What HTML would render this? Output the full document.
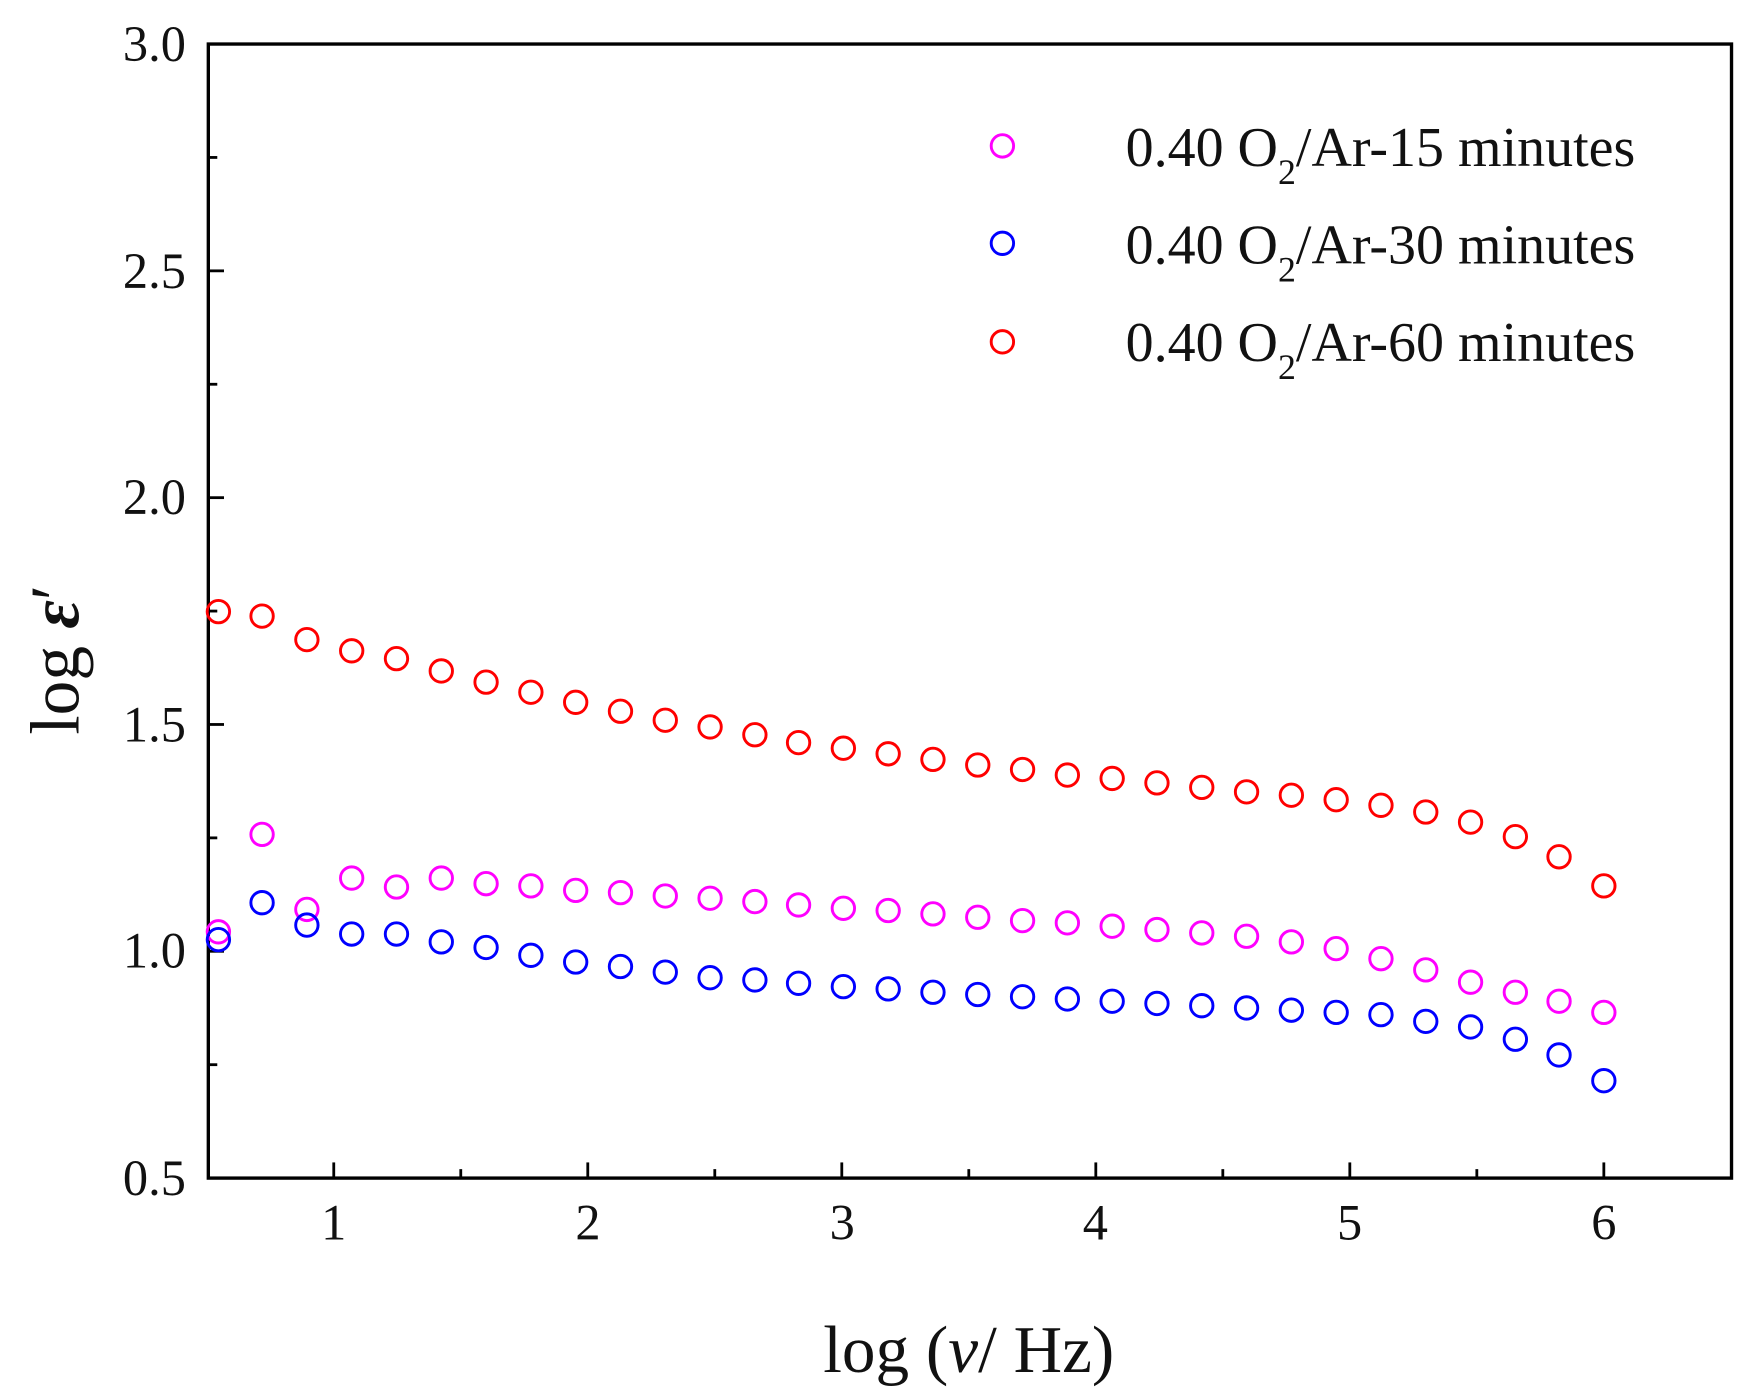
<!DOCTYPE html>
<html><head><style>html,body{margin:0;padding:0;background:#fff;}svg{display:block;}</style></head>
<body>
<svg width="1757" height="1400" viewBox="0 0 1757 1400" xmlns="http://www.w3.org/2000/svg">
<g transform="matrix(1.12 0 0 1.1195 0 1.5)" font-family="Liberation Serif, serif" fill="#111">
<rect x="186" y="38" width="1360" height="1013" fill="none" stroke="#000" stroke-width="3"/>
<g stroke="#000" stroke-width="2.5">
<line x1="298" y1="1051" x2="298" y2="1037"/><line x1="411.4" y1="1051" x2="411.4" y2="1043"/>
<line x1="524.8" y1="1051" x2="524.8" y2="1037"/><line x1="638.2" y1="1051" x2="638.2" y2="1043"/>
<line x1="751.6" y1="1051" x2="751.6" y2="1037"/><line x1="865" y1="1051" x2="865" y2="1043"/>
<line x1="978.4" y1="1051" x2="978.4" y2="1037"/><line x1="1091.8" y1="1051" x2="1091.8" y2="1043"/>
<line x1="1205.2" y1="1051" x2="1205.2" y2="1037"/><line x1="1318.6" y1="1051" x2="1318.6" y2="1043"/>
<line x1="1432" y1="1051" x2="1432" y2="1037"/>
<line x1="186" y1="949.7" x2="194" y2="949.7"/><line x1="186" y1="848.4" x2="200" y2="848.4"/>
<line x1="186" y1="747.1" x2="194" y2="747.1"/><line x1="186" y1="645.8" x2="200" y2="645.8"/>
<line x1="186" y1="544.5" x2="194" y2="544.5"/><line x1="186" y1="443.2" x2="200" y2="443.2"/>
<line x1="186" y1="341.9" x2="194" y2="341.9"/><line x1="186" y1="240.6" x2="200" y2="240.6"/>
<line x1="186" y1="139.3" x2="194" y2="139.3"/>
</g>
<g font-size="45" text-anchor="end">
<text x="166" y="1066">0.5</text><text x="166" y="863">1.0</text><text x="166" y="661">1.5</text>
<text x="166" y="458">2.0</text><text x="166" y="256">2.5</text><text x="166" y="53">3.0</text>
</g>
<g font-size="45" text-anchor="middle">
<text x="298" y="1106">1</text><text x="525" y="1106">2</text><text x="752" y="1106">3</text>
<text x="978" y="1106">4</text><text x="1205" y="1106">5</text><text x="1432" y="1106">6</text>
</g>
<text x="865" y="1224" font-size="60" text-anchor="middle">log (<tspan font-style="italic">ν</tspan>/ Hz)</text>
<text transform="translate(70 588) rotate(-90)" font-size="62" text-anchor="middle">log <tspan font-style="italic" font-weight="bold">ε</tspan>′</text>
<g font-size="50">
<text x="1005" y="147">0.40 O<tspan font-size="32" dy="16">2</tspan><tspan dy="-16">/Ar-15 minutes</tspan></text>
<text x="1005" y="234">0.40 O<tspan font-size="32" dy="16">2</tspan><tspan dy="-16">/Ar-30 minutes</tspan></text>
<text x="1005" y="321">0.40 O<tspan font-size="32" dy="16">2</tspan><tspan dy="-16">/Ar-60 minutes</tspan></text>
</g>
<g fill="none" stroke-width="2.6">
<circle cx="895" cy="129" r="10" stroke="#f0f"/>
<circle cx="895" cy="216" r="10" stroke="#00f"/>
<circle cx="895" cy="304" r="10" stroke="#f00"/>
</g>
<g fill="none" stroke="#f00" stroke-width="2.6">
<circle cx="195" cy="545" r="10"/><circle cx="234" cy="549" r="10"/><circle cx="274" cy="570" r="10"/><circle cx="314" cy="580" r="10"/><circle cx="354" cy="587" r="10"/><circle cx="394" cy="598" r="10"/><circle cx="434" cy="608" r="10"/><circle cx="474" cy="617" r="10"/><circle cx="514" cy="626" r="10"/><circle cx="554" cy="634" r="10"/><circle cx="594" cy="642" r="10"/><circle cx="634" cy="648" r="10"/><circle cx="674" cy="655" r="10"/><circle cx="713" cy="662" r="10"/><circle cx="753" cy="667" r="10"/><circle cx="793" cy="672" r="10"/><circle cx="833" cy="677" r="10"/><circle cx="873" cy="682" r="10"/><circle cx="913" cy="686" r="10"/><circle cx="953" cy="691" r="10"/><circle cx="993" cy="694" r="10"/><circle cx="1033" cy="698" r="10"/><circle cx="1073" cy="702" r="10"/><circle cx="1113" cy="706" r="10"/><circle cx="1153" cy="709" r="10"/><circle cx="1193" cy="713" r="10"/><circle cx="1233" cy="718" r="10"/><circle cx="1273" cy="724" r="10"/><circle cx="1313" cy="733" r="10"/><circle cx="1353" cy="746" r="10"/><circle cx="1392" cy="764" r="10"/><circle cx="1432" cy="790" r="10"/>
</g>
<g fill="none" stroke="#f0f" stroke-width="2.6">
<circle cx="195" cy="831" r="10"/><circle cx="234" cy="744" r="10"/><circle cx="274" cy="811" r="10"/><circle cx="314" cy="783" r="10"/><circle cx="354" cy="791" r="10"/><circle cx="394" cy="783" r="10"/><circle cx="434" cy="788" r="10"/><circle cx="474" cy="790" r="10"/><circle cx="514" cy="794" r="10"/><circle cx="554" cy="796" r="10"/><circle cx="594" cy="799" r="10"/><circle cx="634" cy="801" r="10"/><circle cx="674" cy="804" r="10"/><circle cx="713" cy="807" r="10"/><circle cx="753" cy="810" r="10"/><circle cx="793" cy="812" r="10"/><circle cx="833" cy="815" r="10"/><circle cx="873" cy="818" r="10"/><circle cx="913" cy="821" r="10"/><circle cx="953" cy="823" r="10"/><circle cx="993" cy="826" r="10"/><circle cx="1033" cy="829" r="10"/><circle cx="1073" cy="832" r="10"/><circle cx="1113" cy="835" r="10"/><circle cx="1153" cy="840" r="10"/><circle cx="1193" cy="846" r="10"/><circle cx="1233" cy="855" r="10"/><circle cx="1273" cy="865" r="10"/><circle cx="1313" cy="876" r="10"/><circle cx="1353" cy="885" r="10"/><circle cx="1392" cy="893" r="10"/><circle cx="1432" cy="903" r="10"/>
</g>
<g fill="none" stroke="#00f" stroke-width="2.6">
<circle cx="195" cy="838" r="10"/><circle cx="234" cy="805" r="10"/><circle cx="274" cy="825" r="10"/><circle cx="314" cy="833" r="10"/><circle cx="354" cy="833" r="10"/><circle cx="394" cy="840" r="10"/><circle cx="434" cy="845" r="10"/><circle cx="474" cy="852" r="10"/><circle cx="514" cy="858" r="10"/><circle cx="554" cy="862" r="10"/><circle cx="594" cy="867" r="10"/><circle cx="634" cy="872" r="10"/><circle cx="674" cy="874" r="10"/><circle cx="713" cy="877" r="10"/><circle cx="753" cy="880" r="10"/><circle cx="793" cy="882" r="10"/><circle cx="833" cy="885" r="10"/><circle cx="873" cy="887" r="10"/><circle cx="913" cy="889" r="10"/><circle cx="953" cy="891" r="10"/><circle cx="993" cy="893" r="10"/><circle cx="1033" cy="895" r="10"/><circle cx="1073" cy="897" r="10"/><circle cx="1113" cy="899" r="10"/><circle cx="1153" cy="901" r="10"/><circle cx="1193" cy="903" r="10"/><circle cx="1233" cy="905" r="10"/><circle cx="1273" cy="911" r="10"/><circle cx="1313" cy="916" r="10"/><circle cx="1353" cy="927" r="10"/><circle cx="1392" cy="941" r="10"/><circle cx="1432" cy="964" r="10"/>
</g>
</g>
</svg>
</body></html>
